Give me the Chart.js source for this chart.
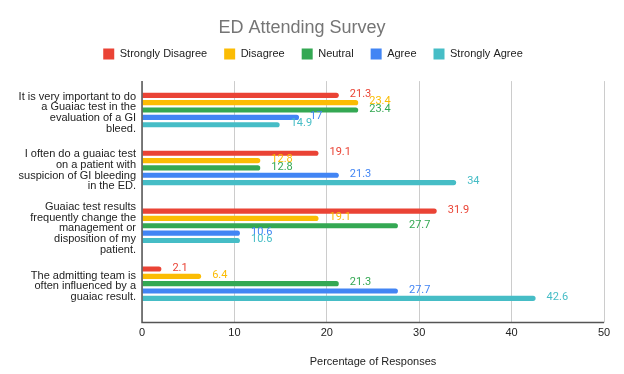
<!DOCTYPE html>
<html>
<head>
<meta charset="utf-8">
<script src="https://cdn.jsdelivr.net/npm/chart.js@4"></script>
<style>
    html, body { margin: 0; padding: 0; background: #fff; }
    #wrap { width: 624px; height: 374px; }
</style>
</head>
<body>
<div id="wrap"><canvas id="myChart" width="624" height="374"></canvas></div>
<script>
// survey statements (y categories)
const questions = [
    ['It is very important to do', 'a Guaiac test in the', 'evaluation of a GI', 'bleed.'],
    ['I often do a guaiac test', 'on a patient with', 'suspicion of GI bleeding', 'in the ED.'],
    ['Guaiac test results', 'frequently change the', 'management or', 'disposition of my', 'patient.'],
    ['The admitting team is', 'often influenced by a', 'guaiac result.'],
];

// percentage of responses per answer
const stronglyDisagree = [21.3, 19.1, 31.9, 2.1];
const disagree = [23.4, 12.8, 19.1, 6.4];
const neutral = [23.4, 12.8, 27.7, 21.3];
const agree = [17, 21.3, 10.6, 27.7];
const stronglyAgree = [14.9, 34, 10.6, 42.6];

const xMin = 0;
const xMax = 50;
const xStep = 10;

const series = [
    { label: 'Strongly Disagree', data: stronglyDisagree, color: '#ea4335' },
    { label: 'Disagree', data: disagree, color: '#fbbc04' },
    { label: 'Neutral', data: neutral, color: '#34a853' },
    { label: 'Agree', data: agree, color: '#4285f4' },
    { label: 'Strongly Agree', data: stronglyAgree, color: '#46bdc6' },
];

Chart.defaults.font.family = "'Liberation Sans', Arial, sans-serif";
Chart.defaults.color = '#222';

// value next to the end of each bar
const valueLabels = {
    id: 'valueLabels',
    afterDatasetsDraw(chart) {
        const { ctx } = chart;
        ctx.save();
        ctx.font = "11px Roboto, 'Liberation Sans', sans-serif";
        ctx.textAlign = 'left';
        ctx.textBaseline = 'middle';
        chart.data.datasets.forEach((ds, i) => {
            const meta = chart.getDatasetMeta(i);
            if (meta.hidden) return;
            meta.data.forEach((bar, j) => {
                ctx.fillStyle = ds.backgroundColor;
                ctx.fillText(String(ds.data[j]), bar.x + 11, bar.y - 1);
            });
        });
        ctx.restore();
    }
};

// axis lines, the bottom one sits a bit below the last category
const axisLines = {
    id: 'axisLines',
    afterDatasetsDraw(chart) {
        const { ctx, chartArea } = chart;
        const gap = 10;
        ctx.save();
        ctx.strokeStyle = '#555';
        ctx.lineWidth = 1.5;
        ctx.beginPath();
        ctx.moveTo(chartArea.left, chartArea.top);
        ctx.lineTo(chartArea.left, chartArea.bottom + gap);
        ctx.lineTo(chartArea.right, chartArea.bottom + gap);
        ctx.stroke();
        ctx.restore();
    }
};

// more room under the legend, and nudge it a little to the right
const legendSpacing = {
    id: 'legendSpacing',
    beforeInit(chart) {
        const fit = chart.legend.fit;
        chart.legend.fit = function () {
            fit.call(this);
            this.height += 11.5;
        };
    },
    afterLayout(chart) {
        chart.legend.left += 11;
        chart.legend.right += 11;
    }
};

new Chart(document.getElementById('myChart').getContext('2d'), {
    type: 'bar',
    data: {
        labels: questions,
        datasets: series.map(s => ({
            label: s.label,
            data: s.data,
            backgroundColor: s.color,
            borderColor: s.color,
            borderWidth: 0,
            borderRadius: 3,
            categoryPercentage: 0.635,
            barPercentage: 0.7,
        })),
    },
    options: {
        indexAxis: 'y',
        responsive: false,
        animation: false,
        layout: { padding: { left: 0, right: 20, top: 0, bottom: 5 } },
        plugins: {
            title: {
                display: true,
                text: 'ED Attending Survey',
                color: '#757575',
                font: { size: 18, weight: 'normal' },
                padding: { top: 17, bottom: -7 },
            },
            legend: {
                display: true,
                labels: {
                    boxWidth: 11,
                    boxHeight: 11,
                    padding: 17,
                    color: '#222',
                    font: { size: 11 },
                },
            },
            tooltip: { enabled: false },
        },
        scales: {
            x: {
                min: xMin,
                max: xMax,
                ticks: { stepSize: xStep, padding: 4, color: '#222', font: { size: 11 } },
                grid: { color: '#cccccc', tickColor: '#cccccc', tickLength: 10, lineWidth: 1 },
                border: { display: false },
                title: {
                    display: true,
                    text: 'Percentage of Responses',
                    color: '#222',
                    font: { size: 11 },
                    padding: { top: 12, bottom: 0 },
                },
            },
            y: {
                grid: { display: false, drawTicks: false },
                border: { display: false },
                ticks: { padding: 6, labelOffset: 2.5, color: '#222', font: { size: 11, lineHeight: 0.97 } },
                afterFit(scale) { scale.width = 142; },
            },
        },
    },
    plugins: [valueLabels, axisLines, legendSpacing],
});
</script>
</body>
</html>
